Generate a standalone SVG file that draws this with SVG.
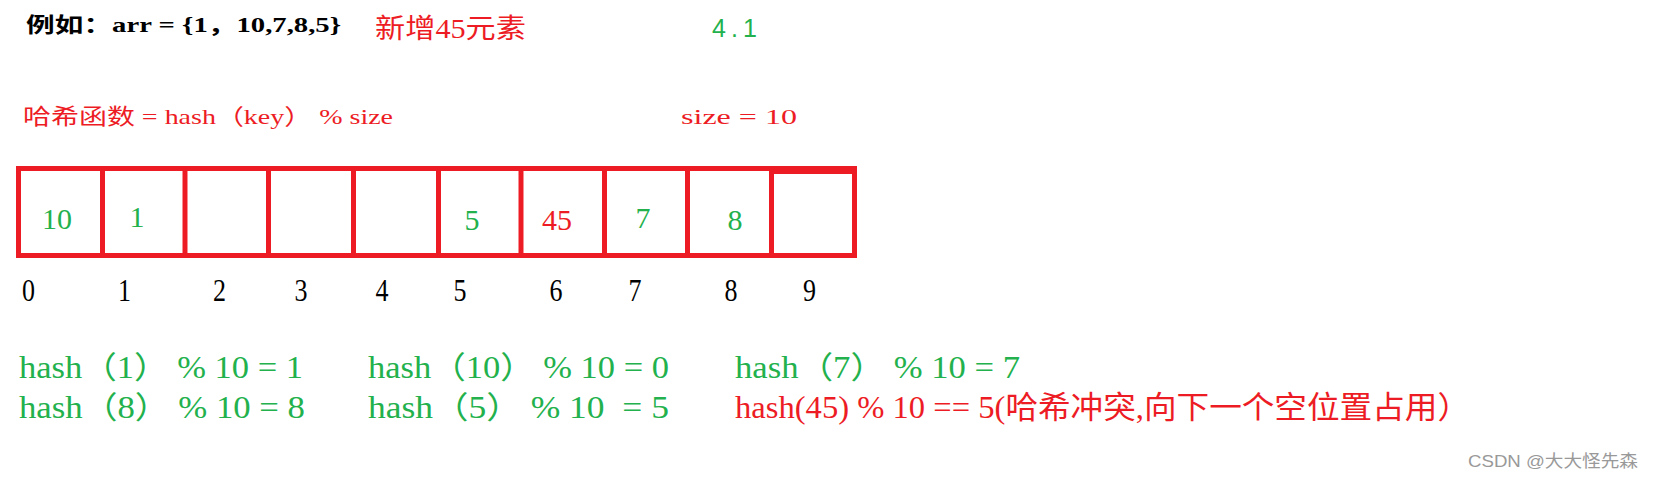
<svg xmlns="http://www.w3.org/2000/svg" width="1655" height="483" viewBox="0 0 1655 483">
<style>
.t{font-family:"Liberation Serif","Noto Sans CJK SC",serif}
.g{fill:#22B14C}
.r{fill:#ED1C24}
.k{fill:#000}
.cell{fill:none;stroke:#ED1C24;stroke-width:5}
.num{font-family:"Liberation Serif",serif;font-size:30px;text-anchor:middle}
.idx{font-family:"Liberation Serif",serif;font-size:32px;fill:#000;text-anchor:middle}
.hl{font-family:"Liberation Serif","Noto Sans CJK SC",serif;font-size:31px}
</style>
<rect width="1655" height="483" fill="#fff"/>
<g id="header">
<text class="t k" x="26" y="32" font-size="21" font-weight="bold" textLength="315" lengthAdjust="spacingAndGlyphs">例如：arr = {1，10,7,8,5}</text>
<text class="t r" x="375" y="38" font-size="27" textLength="151" lengthAdjust="spacingAndGlyphs">新增45元素</text>
<text class="g" x="712" y="37" font-family="Liberation Sans,sans-serif" font-size="25" textLength="45" lengthAdjust="spacing">4.1</text>
<text class="t r" x="23" y="124" font-size="22" textLength="370" lengthAdjust="spacingAndGlyphs">哈希函数 = hash（key） % size</text>
<text class="t r" x="681" y="124" font-size="22" textLength="116" lengthAdjust="spacingAndGlyphs">size = 10</text>
</g>
<g id="array">
<rect class="cell" x="18.5" y="168.5" width="836" height="87"/>
<line class="cell" x1="102.5" y1="168" x2="102.5" y2="256"/>
<line class="cell" x1="185" y1="168" x2="185" y2="256"/>
<line class="cell" x1="268.5" y1="168" x2="268.5" y2="256"/>
<line class="cell" x1="353.5" y1="168" x2="353.5" y2="256"/>
<line class="cell" x1="438.5" y1="168" x2="438.5" y2="256"/>
<line class="cell" x1="521" y1="168" x2="521" y2="256"/>
<line class="cell" x1="604.5" y1="168" x2="604.5" y2="256"/>
<line class="cell" x1="687.5" y1="168" x2="687.5" y2="256"/>
<line class="cell" x1="771.5" y1="168" x2="771.5" y2="256"/>
<line class="cell" x1="771" y1="171.5" x2="854" y2="171.5"/>
<text class="num g" x="57" y="229">10</text>
<text class="num g" x="137" y="227">1</text>
<text class="num g" x="472" y="230">5</text>
<text class="num r" x="557" y="230">45</text>
<text class="num g" x="643" y="228">7</text>
<text class="num g" x="735" y="230">8</text>
</g>
<g id="indices">
<text class="idx" x="28.5" y="301" textLength="13" lengthAdjust="spacingAndGlyphs">0</text>
<text class="idx" x="124.5" y="301" textLength="13" lengthAdjust="spacingAndGlyphs">1</text>
<text class="idx" x="219.5" y="301" textLength="13" lengthAdjust="spacingAndGlyphs">2</text>
<text class="idx" x="301" y="301" textLength="13" lengthAdjust="spacingAndGlyphs">3</text>
<text class="idx" x="382" y="301" textLength="13" lengthAdjust="spacingAndGlyphs">4</text>
<text class="idx" x="460" y="301" textLength="13" lengthAdjust="spacingAndGlyphs">5</text>
<text class="idx" x="556" y="301" textLength="13" lengthAdjust="spacingAndGlyphs">6</text>
<text class="idx" x="635" y="301" textLength="13" lengthAdjust="spacingAndGlyphs">7</text>
<text class="idx" x="731" y="301" textLength="13" lengthAdjust="spacingAndGlyphs">8</text>
<text class="idx" x="809.5" y="301" textLength="13" lengthAdjust="spacingAndGlyphs">9</text>
</g>
<g id="formulas">
<text class="hl g" x="19" y="378" textLength="284" lengthAdjust="spacingAndGlyphs">hash（1） % 10 = 1</text>
<text class="hl g" x="368" y="378" textLength="301" lengthAdjust="spacingAndGlyphs">hash（10） % 10 = 0</text>
<text class="hl g" x="735" y="378" textLength="285" lengthAdjust="spacingAndGlyphs">hash（7） % 10 = 7</text>
<text class="hl g" x="19" y="418" textLength="286" lengthAdjust="spacingAndGlyphs">hash（8） % 10 = 8</text>
<text class="hl g" x="368" y="418" textLength="301" lengthAdjust="spacingAndGlyphs" xml:space="preserve">hash（5） % 10  = 5</text>
<text class="hl r" x="735" y="418" textLength="735" lengthAdjust="spacingAndGlyphs">hash(45) % 10 == 5(哈希冲突,向下一个空位置占用）</text>
</g>
<g id="watermark">
<text x="1468" y="467" font-family="Liberation Sans,Noto Sans CJK SC,sans-serif" font-size="17" fill="#999" textLength="170" lengthAdjust="spacingAndGlyphs">CSDN @大大怪先森</text>
</g>
</svg>
